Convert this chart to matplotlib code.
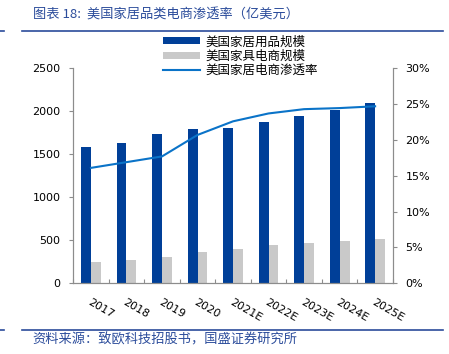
import matplotlib.pyplot as plt
import numpy as np

plt.rcParams['font.family'] = ['DejaVu Sans', 'Noto Sans CJK SC']

years = ['2017', '2018', '2019', '2020', '2021E', '2022E', '2023E', '2024E', '2025E']
home_goods = [1580, 1630, 1740, 1795, 1805, 1870, 1945, 2015, 2095]
furniture_ecom = [250, 270, 302, 364, 403, 442, 465, 492, 512]
penetration = [16.1, 16.9, 17.7, 20.7, 22.6, 23.7, 24.3, 24.45, 24.7]

blue = '#003F98'
grey = '#C9C9C9'
line_blue = '#0A73C8'
title_blue = '#2B4C9B'
cjk = ['Noto Sans CJK SC', 'DejaVu Sans']

fig = plt.figure(figsize=(4.49, 3.54), dpi=100)
ax = fig.add_axes([0.163, 0.200, 0.712, 0.607])
ax2 = ax.twinx()

x = np.arange(len(years))
w = 0.28
b1 = ax.bar(x - w / 2, home_goods, w, color=blue, label='美国家居用品规模', zorder=2)
b2 = ax.bar(x + w / 2, furniture_ecom, w, color=grey, label='美国家具电商规模', zorder=2)
l1, = ax2.plot(x, penetration, color=line_blue, lw=1.5, label='美国家居电商渗透率')

ax.set_xlim(-0.5, len(years) - 0.5)
ax.set_ylim(0, 2500)
ax.set_yticks(range(0, 2501, 500))
ax2.set_ylim(0, 30)
ax2.set_yticks(range(0, 31, 5))
ax2.set_yticklabels([f'{v}%' for v in range(0, 31, 5)])

for a in (ax, ax2):
    for s in a.spines.values():
        s.set_color('#8C8C8C')
        s.set_linewidth(0.8)
    a.spines['top'].set_visible(False)
    a.tick_params(axis='y', length=3, width=0.8, color='#8C8C8C', labelsize=8, pad=6)

ax.set_xticks(x)
ax.set_xticklabels(years, rotation=-30, ha='left', rotation_mode='anchor', fontsize=8)
ax.tick_params(axis='x', length=0, pad=10)
ax.set_xticks(np.arange(-0.5, len(years)), minor=True)
ax.tick_params(axis='x', which='minor', direction='in', length=3, width=0.8, color='#8C8C8C')

leg = fig.legend([b1, b2, l1], [b1.get_label(), b2.get_label(), l1.get_label()],
                 loc='upper left', bbox_to_anchor=(0.348, 0.918), frameon=False,
                 prop={'family': cjk, 'size': 9}, handlelength=3.0, handleheight=0.5,
                 labelspacing=0.12, handletextpad=0.4, borderpad=0)

fig.text(0.073, 0.957, '图表 18:  美国家居品类电商渗透率（亿美元）', color=title_blue,
         fontsize=9.5, family=cjk, va='center')
fig.add_artist(plt.Line2D([0.049, 0.987], [0.913, 0.913], color=title_blue, lw=1.2))
fig.add_artist(plt.Line2D([0.0, 0.009], [0.913, 0.913], color=title_blue, lw=1.2))
fig.add_artist(plt.Line2D([0.049, 0.987], [0.068, 0.068], color=title_blue, lw=1.2))
fig.add_artist(plt.Line2D([0.0, 0.009], [0.068, 0.068], color=title_blue, lw=1.2))
fig.text(0.073, 0.040, '资料来源：致欧科技招股书，国盛证券研究所', color=title_blue,
         fontsize=9.5, family=cjk, va='center')

fig.savefig('out.png', dpi=100)
